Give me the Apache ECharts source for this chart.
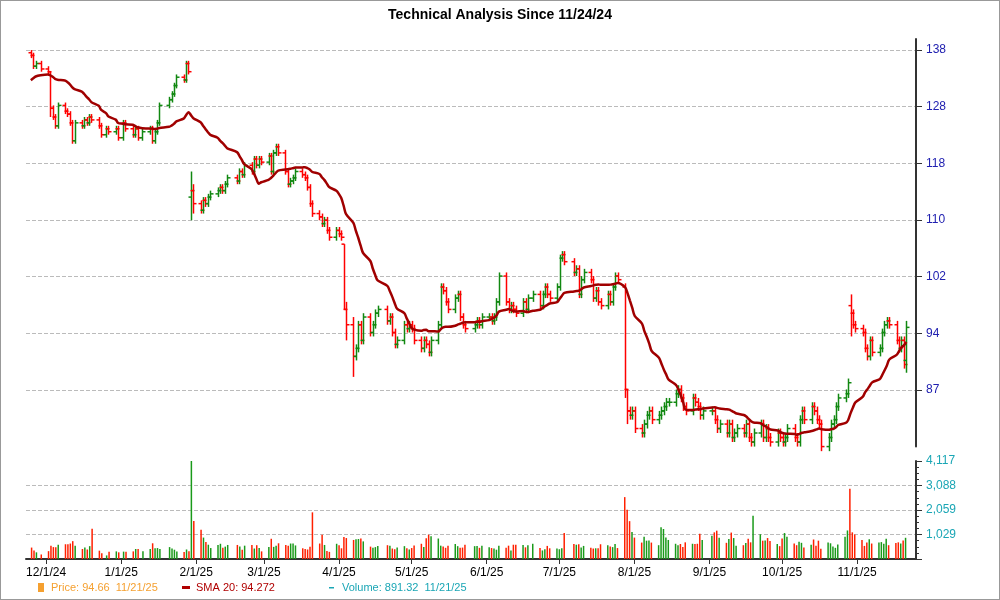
<!DOCTYPE html>
<html><head><meta charset="utf-8">
<script src="https://cdn.jsdelivr.net/npm/echarts@6/dist/echarts.min.js"></script>
<style>html,body{margin:0;padding:0;background:#fff}#c{width:1000px;height:600px;box-sizing:border-box;border:1px solid #999}</style>
</head><body><div id="c"></div>
<script>
const title = 'Technical Analysis Since 11/24/24';
const holidays = ['2024-11-28','2024-12-25','2025-01-01','2025-01-09','2025-01-20','2025-02-17','2025-04-18','2025-05-26','2025-06-19','2025-07-04','2025-09-01'];
const priceTicks = [87, 94, 102, 110, 118, 128, 138];
const volTicks = [0, 1029, 2059, 3088, 4117];
// closes before the window (seed for SMA 20)
const preCloses = [128,129,130,131,130.5,131.5,132,131,130,131.5,132.5,133,132,133.5,134,135,134.5,136,137];
const closeNov24 = [137,135,135.5,134.5];
const closeDec = [134,127.5,126,124.5,128,127,126.5,125,122,125,124.5,125.5,125,126,125.5,124.5,123,124,123.5,124,122.5];
const closeJan = [125,124,123,124,122.5,123.5,124,122,123.5,125,128,129,130,131.5,133,132.5,135.5,134,114,112];
const closeFeb = [111,112.5,112,113,113.5,114,114.5,114,115,116,115.5,117,116.5,118,117,119,118,119,118.5];
const closeMar = [119.5,117,120,121,120,117,115,115.5,116,117,116.5,116,114.5,112,110.5,110,109,109.5,108,107,108];
const closeApr = [107.5,107,97,95,91,92,95,93,96,94,95,96.5,97,95.5,96,94,92.5,93,95,94.5,95];
const closeMay = [94.5,93,92,93,92.5,91.5,93,95,100,99.5,98,97,98.5,99,96,95,94.5,95,95.5,95,96];
const closeJun = [96,95.5,96,98,101.5,98,97,97.5,97,96.5,98,97,98.5,99,97.5,99,100,99,98.5,100];
const closeJul = [104,104.5,103.5,102,102.5,99,101,102,101,98.5,99.5,98,97.5,99,98,100,101.5,101,87,84.5,84,84.5];
const closeAug = [82.5,82,83,84,84.5,83.5,84,84.5,85,85.5,85.5,86.5,87,86,85,84.5,86,85.5,85,84,84.5];
const closeSep = [84.5,83.5,82.5,83,82,83,81.5,82,82.5,82,83,81.5,81,82,83,81.5,82.5,81.5,81,82,81.5];
const closeOct = [81,81.5,82.5,81.5,81,83.5,84.5,83.5,85,84.5,83.5,83,80.5,81.5,83,83.5,85,86,86.5,87.8,96.5,95,94.5];
const closeNov = [94,92,91,93,91.5,92,94,95,95.5,95,93,92,93,90,94.66];
// [date, open, high, low] for wide-range days
const wideBars = [['2024-12-03',134,134,126],['2025-01-30',113,117,109.5],['2025-01-31',114,115,110.5],
 ['2025-04-03',106,106,97],['2025-04-04',97,98,93],['2025-04-07',95,96,88.5],
 ['2025-07-28',100,100.5,86],['2025-07-29',87,87,83],['2025-10-29',97.5,99,93.5],['2025-11-21',90.5,95.5,89]];
const volNov24 = [480,360,280,190];
const volDec = [330,560,500,490,600,620,620,650,750,560,420,480,400,540,1270,350,240,150,300,320,280];
const volJan = [310,300,320,420,420,330,420,660,450,460,420,500,440,390,310,290,400,330,4117,1600];
const volFeb = [1230,900,710,600,460,590,640,470,520,590,590,520,390,560,590,440,580,460,320];
const volMar = [500,850,510,560,660,590,560,650,650,570,450,420,400,510,1960,650,1020,590,340,300,640];
const volApr = [580,450,920,880,800,830,840,860,740,520,470,500,550,580,560,440,410,480,540,450,400];
const volMay = [460,570,640,500,870,1020,960,860,560,530,470,560,630,540,470,480,600,540,550,470,560];
const volJun = [490,460,440,390,560,470,560,360,600,600,590,490,580,640,460,360,410,550,450,440];
const volJul = [410,450,1090,630,600,620,480,550,470,440,450,450,620,580,520,500,630,460,2600,2070,1590,1130];
const volAug = [900,690,930,770,780,690,580,1330,1260,900,800,640,580,630,500,700,640,630,640,1060,800];
const volSep = [980,1120,1190,890,680,840,1110,880,560,580,670,850,700,1820,1040,770,780,880,760,630,540];
const volOct = [860,1090,930,650,580,720,680,480,600,820,560,770,430,690,660,530,470,610,930,1200,2950,1120,1030];
const volNov = [800,550,690,830,650,690,710,640,850,580,670,700,650,780,891];

const closes = [].concat(closeNov24,closeDec,closeJan,closeFeb,closeMar,closeApr,closeMay,closeJun,closeJul,closeAug,closeSep,closeOct,closeNov);
const volumes = [].concat(volNov24,volDec,volJan,volFeb,volMar,volApr,volMay,volJun,volJul,volAug,volSep,volOct,volNov);

const dates = [];
{ const d = new Date(Date.UTC(2024,10,25)); const end = Date.UTC(2025,10,21);
  while (d.getTime() <= end) { const wd = d.getUTCDay(); const s = d.toISOString().slice(0,10);
    if (wd>0 && wd<6 && !holidays.includes(s)) dates.push(s); d.setUTCDate(d.getUTCDate()+1); } }
const n = Math.min(dates.length, closes.length);
const LB = Math.log(1.08003);
const L = v => Math.log(v)/LB;
const all = preCloses.concat(closes.slice(0,n));
const wide = {}; wideBars.forEach(w => wide[w[0]] = w);
const ohlc = [], sma = [], vol = [];
for (let i=0;i<n;i++){
  const c = closes[i]; let o = i>0 ? closes[i-1] : 137.5; let h = Math.max(o,c)+0.5, l = Math.min(o,c)-0.5;
  if (wide[dates[i]]) { o = wide[dates[i]][1]; h = wide[dates[i]][2]; l = wide[dates[i]][3]; }
  ohlc.push([dates[i], L(o), L(h), L(l), L(c), c>=o?1:0]);
  const j = i + preCloses.length; const w = all.slice(Math.max(0,j-19), j+1);
  sma.push([dates[i], L(w.reduce((a,b)=>a+b,0)/w.length)]);
  vol.push({value:[dates[i], volumes[i]||400], itemStyle:{color: c>=o ? '#1a9a1a' : '#ff2000'}});
}
const xmin = '2024-11-23', xmax = '2025-11-25';
const fmtDate = v => { const d = new Date(v); return (d.getMonth()+1)+'/'+d.getDate()+'/'+String(d.getFullYear()).slice(2); };

const chart = echarts.init(document.getElementById('c'));
chart.setOption({
  animation:false,
  title:{text:title,left:'center',top:2,textStyle:{fontFamily:'Arial',fontSize:14,fontWeight:'bold',color:'#000'}},
  grid:[{left:25,right:83,top:38,height:407.5},{left:25,right:83,top:460,height:98}],
  xAxis:[
    {type:'time',gridIndex:0,min:xmin,max:xmax,axisLine:{show:false},axisTick:{show:false},axisLabel:{show:false},splitLine:{show:false}},
    {type:'time',gridIndex:1,min:xmin,max:xmax,splitNumber:12,axisLine:{lineStyle:{color:'#333',width:2}},
      axisTick:{show:true,lineStyle:{color:'#333'}},splitLine:{show:false},
      axisLabel:{formatter:v=>fmtDate(v),color:'#000',fontFamily:'Arial',fontSize:12,margin:8,hideOverlap:false,showMinLabel:false,showMaxLabel:false}}
  ],
  yAxis:[
    {type:'value',gridIndex:0,position:'right',min:57,max:64.195,interval:1,
     axisLine:{show:true,lineStyle:{color:'#333',width:2}},axisTick:{show:true,length:6,lineStyle:{color:'#333'}},
     axisLabel:{color:'#2020b0',fontFamily:'Arial',fontSize:12,margin:10,showMinLabel:false,showMaxLabel:false,
       formatter:v=>{const k=Math.round(v)-58; return (k>=0&&k<priceTicks.length)?String(priceTicks[k]):'';}},
     splitLine:{show:true,showMinLine:false,showMaxLine:false,lineStyle:{color:'#bbb',type:'dashed'}}},
    {type:'value',gridIndex:1,position:'right',min:0,max:4117,interval:1029.25,
     axisLine:{show:true,lineStyle:{color:'#333',width:2}},axisTick:{show:true,length:6,lineStyle:{color:'#333'}},
     minorTick:{show:true,splitNumber:4,length:3,lineStyle:{color:'#333'}},
     axisLabel:{color:'#1aa6b5',fontFamily:'Arial',fontSize:12,margin:10,showMinLabel:false,
       formatter:v=>{const k=Math.round(v/1029.25); return k>0?volTicks[k].toLocaleString('en-US'):'';}},
     splitLine:{show:true,showMinLine:false,showMaxLine:false,lineStyle:{color:'#bbb',type:'dashed'}}}
  ],
  series:[
    {type:'custom',xAxisIndex:0,yAxisIndex:0,data:ohlc,clip:false,
     encode:{x:0,y:[1,2,3,4]},
     renderItem:(p,api)=>{
       const x=api.value(0); const po=api.coord([x,api.value(1)]), ph=api.coord([x,api.value(2)]), pl=api.coord([x,api.value(3)]), pc=api.coord([x,api.value(4)]);
       const col = api.value(5)?'#118811':'#ff0000'; const st={stroke:col,lineWidth:1.5}; const px=Math.round(po[0])+0.5;
       return {type:'group',children:[
         {type:'line',shape:{x1:px,y1:ph[1],x2:px,y2:pl[1]},style:st},
         {type:'line',shape:{x1:px-3,y1:po[1],x2:px,y2:po[1]},style:st},
         {type:'line',shape:{x1:px,y1:pc[1],x2:px+3,y2:pc[1]},style:st}]};
     }},
    {type:'line',xAxisIndex:0,yAxisIndex:0,data:sma,showSymbol:false,smooth:0.3,lineStyle:{color:'#a00000',width:2.5}},
    {type:'bar',xAxisIndex:1,yAxisIndex:1,data:vol,barWidth:1.5}
  ],
  graphic:[
    {type:'rect',left:37,top:582,shape:{width:6,height:9},style:{fill:'#f5a030'}},
    {type:'text',left:50,top:581,style:{text:'Price: 94.66  11/21/25',fill:'#f5a030',font:'11px Arial'}},
    {type:'rect',left:181,top:585,shape:{width:8,height:3},style:{fill:'#b00000'}},
    {type:'text',left:195,top:581,style:{text:'SMA 20: 94.272',fill:'#b00000',font:'11px Arial'}},
    {type:'rect',left:328,top:586,shape:{width:5,height:1.5},style:{fill:'#1aa6b5'}},
    {type:'text',left:341,top:581,style:{text:'Volume: 891.32  11/21/25',fill:'#1aa6b5',font:'11px Arial'}}
  ]
});
</script></body></html>
